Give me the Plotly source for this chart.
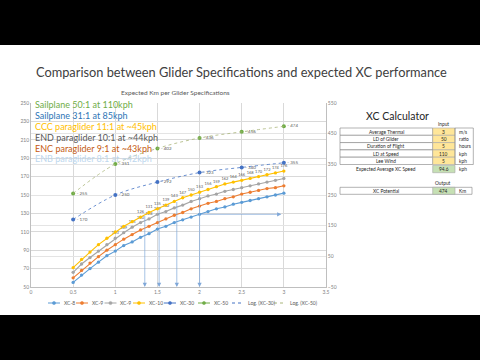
import plotly.graph_objects as go

# ---------------- data ----------------
hours = [0.5, 0.6, 0.7, 0.8, 0.9, 1.0, 1.1, 1.2, 1.3, 1.4, 1.5, 1.6, 1.7,
         1.8, 1.9, 2.0, 2.1, 2.2, 2.3, 2.4, 2.5, 2.6, 2.7, 2.8, 2.9, 3.0]
xc8 = [55, 63, 70, 77, 84, 89, 95, 99, 104, 108, 113, 116, 120,
       123, 126, 129, 132, 135, 137, 140, 142, 144, 146, 148, 150, 152]
xc9 = [60, 68, 76, 83, 90, 96, 102, 107, 112, 116, 120, 124, 128,
       131, 135, 138, 141, 143, 146, 148, 151, 153, 155, 157, 158, 160]
xc9b = [66, 75, 82, 89, 96, 103, 109, 115, 120, 124, 129, 132, 136,
        139, 143, 146, 149, 151, 154, 156, 158, 160, 162, 164, 166, 168]
xc10 = [71, 80, 88, 96, 103, 110, 116, 121, 126, 131, 135, 139, 143,
        147, 150, 153, 156, 159, 162, 164, 166, 168, 170, 172, 174, 176]

hours_sail = [0.5, 1.0, 1.5, 2.0, 2.5, 3.0]
xc30 = [170, 250, 292, 323, 340, 355]
xc50 = [255, 351, 402, 436, 456, 474]

series_names = ["XC-8", "XC-9", "XC-9", "XC-10", "XC-30", "XC-50"]
series_colors = ["#5B9BD5", "#ED7D31", "#A5A5A5", "#FFC000", "#4472C4", "#70AD47"]
trend_names = ["Log. (XC-30)", "Log. (XC-50)"]
trend_colors = ["#4472C4", "#A9B57A"]

notes = ["Sailplane 50:1 at 110kph", "Sailplane 31:1 at 85kph",
         "CCC paraglider 11:1 at ~45kph", "END paraglider 10:1 at ~44kph",
         "ENC paraglider 9:1 at ~43kph", "ENB paraglider 8:1 at ~42kph"]
note_colors = ["#70AD47", "#2E75B6", "#FFC000", "#595959", "#C55A11", "#BDD7EE"]

# drop arrows (x, top value on left axis)
drop_x = [1.35, 1.52, 1.73, 2.0]
drop_top = [129, 135, 144, 153]
flat_arrow = (2.0, 2.97, 129)

calc_labels = ["Average Thermal", "LD of Glider", "Duration of Flight",
               "LD at Speed", "Lee Wind", "Expected Average XC Speed"]
calc_values = ["3", "50", "5", "110", "5", "94.6"]
calc_units = ["m/s", "ratio", "hours", "kph", "kph", "kph"]
out_label = "XC Potential"
out_value = "474"
out_unit = "Km"

# ---------------- layout helpers ----------------
L, R, T, B = 31, 326, 103, 287
W, H = R - L, B - T


def px(x):
    return (x - L) / W


def py(y):
    return (B - y) / H


FONT = "Lato"
LBL = "#595959"
TXT = "#262626"

fig = go.Figure()

lower = [xc8, xc9, xc9b, xc10]
label_ranges = [None, None, (1.0, 1.6), (1.3, 3.0)]
for i, ys in enumerate(lower):
    rng = label_ranges[i]
    if rng:
        txt = [str(v) if rng[0] - 1e-9 <= h <= rng[1] + 1e-9 else "" for h, v in zip(hours, ys)]
        mode = "lines+markers+text"
    else:
        txt = None
        mode = "lines+markers"
    fig.add_trace(go.Scatter(
        x=hours, y=ys, name=series_names[i], mode=mode, text=txt,
        textposition="top center", textfont=dict(size=4, color=LBL, family=FONT),
        line=dict(color=series_colors[i], width=1.1),
        marker=dict(color=series_colors[i], size=3.3),
        cliponaxis=False, showlegend=False))

for ys, i in ((xc30, 4), (xc50, 5)):
    fig.add_trace(go.Scatter(
        x=hours_sail, y=ys, name=series_names[i], mode="markers+text",
        text=["- " + str(v) for v in ys], textposition="middle right",
        textfont=dict(size=4.5, color=LBL, family=FONT),
        marker=dict(color=series_colors[i], size=4), yaxis="y2", cliponaxis=False,
        showlegend=False))

for ys, nm, col in ((xc30, trend_names[0], trend_colors[0]), (xc50, trend_names[1], trend_colors[1])):
    fig.add_trace(go.Scatter(
        x=hours_sail, y=ys, name=nm, mode="lines", line_shape="spline",
        line=dict(color=col, width=0.8, dash="dot"), yaxis="y2", showlegend=False))

ann = []
shapes = []


def text(t, x, y, size, color, xanchor="center"):
    ann.append(dict(text=t, xref="paper", yref="paper", x=px(x), y=py(y), showarrow=False,
                    xanchor=xanchor, yanchor="middle",
                    font=dict(size=size, color=color, family=FONT)))


# slide letterbox bars
shapes.append(dict(type="rect", xref="paper", yref="paper", x0=px(-5), x1=px(485),
                   y0=py(315), y1=py(365), fillcolor="black", line_width=0, layer="above"))
shapes.append(dict(type="rect", xref="paper", yref="paper", x0=px(-5), x1=px(485),
                   y0=py(45), y1=py(-5), fillcolor="black", line_width=0, layer="above"))

# titles
text("Comparison between Glider Specifications and expected XC performance", 241, 72, 12.8, "#404040")
text("Expected Km per Glider Specifications", 175, 92, 6.5, LBL)

# coloured notes
note_y = [104.3, 115.3, 126.3, 137, 148, 158.7]
for t, c, yy in zip(notes, note_colors, note_y):
    text(t, 33, yy, 9, c, "left")

# drop arrows
for xv, tv in zip(drop_x, drop_top):
    ann.append(dict(text="", x=xv, y=50, ax=xv, ay=tv, xref="x", yref="y", axref="x", ayref="y",
                    showarrow=True, arrowhead=2, arrowsize=1.2, arrowwidth=0.7, arrowcolor="#7FA7D8"))
ann.append(dict(text="", x=flat_arrow[1], y=flat_arrow[2], ax=flat_arrow[0], ay=flat_arrow[2],
                xref="x", yref="y", axref="x", ayref="y", showarrow=True, arrowhead=2,
                arrowsize=1.2, arrowwidth=0.7, arrowcolor="#7FA7D8"))

# custom compact legend (bottom)
leg_names = series_names + trend_names
leg_colors = series_colors + trend_colors
leg_x = [54, 82, 110.5, 139, 170, 204, 238, 280]
leg_y = 303
for k, (nm, col, xc) in enumerate(zip(leg_names, leg_colors, leg_x)):
    dash = "dot" if k >= 6 else "solid"
    shapes.append(dict(type="line", xref="paper", yref="paper", x0=px(xc - 6), x1=px(xc + 6),
                       y0=py(leg_y), y1=py(leg_y), line=dict(color=col, width=1, dash=dash)))
    if k < 6:
        shapes.append(dict(type="circle", xref="paper", yref="paper", x0=px(xc - 1.6), x1=px(xc + 1.6),
                           y0=py(leg_y + 1.6), y1=py(leg_y - 1.6), fillcolor=col, line=dict(color=col, width=0.5)))
    text(nm, xc + 7.5, leg_y, 5, LBL, "left")

# XC calculator
text("XC Calculator", 397, 115.7, 10.5, TXT)
text("Input", 443, 124, 4.8, TXT)
row_top = [128, 135.3, 142.6, 149.9, 157.2, 165.4]
row_h = 7.3
c0, c1, c2, c3 = 340, 432.7, 455, 473.3
for i, (lb, v, u) in enumerate(zip(calc_labels, calc_values, calc_units)):
    y0 = row_top[i]
    y1 = y0 + row_h
    yc = (y0 + y1) / 2
    if i < 5:
        shapes.append(dict(type="rect", xref="paper", yref="paper", x0=px(c0), x1=px(c1),
                           y0=py(y1), y1=py(y0), line=dict(color="#7F7F7F", width=0.6),
                           fillcolor="white"))
        fill = "#FFE699"
    else:
        fill = "#C6E0B4"
    shapes.append(dict(type="rect", xref="paper", yref="paper", x0=px(c1), x1=px(c2),
                       y0=py(y1), y1=py(y0), line=dict(color="#A6A6A6", width=0.6),
                       fillcolor=fill))
    text(lb, (c0 + c1) / 2, yc, 4.8, TXT)
    text(v, (c1 + c2) / 2, yc, 4.8, TXT)
    text(u, c2 + 1.5, yc, 4.8, TXT, "left")
shapes.append(dict(type="rect", xref="paper", yref="paper", x0=px(c2), x1=px(c3),
                   y0=py(164.5), y1=py(128), line=dict(color="#7F7F7F", width=0.6)))

text("Output", 443, 183.3, 4.8, TXT)
oy0, oy1 = 187.3, 194.3
shapes.append(dict(type="rect", xref="paper", yref="paper", x0=px(c0), x1=px(472),
                   y0=py(oy1), y1=py(oy0), line=dict(color="#7F7F7F", width=0.6), fillcolor="white"))
shapes.append(dict(type="rect", xref="paper", yref="paper", x0=px(c1), x1=px(c2),
                   y0=py(oy1), y1=py(oy0), line=dict(color="#A6A6A6", width=0.6), fillcolor="#C6E0B4"))
oyc = (oy0 + oy1) / 2
text(out_label, (c0 + c1) / 2, oyc, 4.8, TXT)
text(out_value, (c1 + c2) / 2, oyc, 4.8, TXT)
text(out_unit, c2 + 1.5, oyc, 4.8, TXT, "left")

tickfont = dict(size=5, color="#7F7F7F", family=FONT)
fig.update_layout(
    width=480, height=360,
    margin=dict(l=L, r=480 - R, t=T, b=360 - B, autoexpand=False),
    paper_bgcolor="white", plot_bgcolor="white",
    font=dict(family=FONT),
    annotations=ann, shapes=shapes,
    showlegend=False,
    xaxis=dict(range=[0, 3.5], tickvals=[0, 0.5, 1, 1.5, 2, 2.5, 3, 3.5],
               ticktext=["0", "0.5", "1", "1.5", "2", "2.5", "3", "3.5"],
               showgrid=True, gridcolor="#D9D9D9", gridwidth=0.7, zeroline=False,
               showline=True, linecolor="#BFBFBF", linewidth=0.7, tickfont=tickfont, ticks=""),
    yaxis=dict(range=[50, 250], tick0=50, dtick=20, showgrid=True, gridcolor="#D9D9D9", gridwidth=0.7,
               zeroline=False, showline=True, linecolor="#BFBFBF", linewidth=0.7,
               tickfont=tickfont, ticks=""),
    yaxis2=dict(range=[-50, 550], tick0=-50, dtick=100, overlaying="y", side="right", showgrid=True,
                gridcolor="#E4E4E4", gridwidth=0.7, zeroline=False, showline=True,
                linecolor="#BFBFBF", linewidth=0.7, tickfont=tickfont, ticks=""),
)

fig.write_html("out.html", config={"displayModeBar": False},
               post_script="document.body.style.margin='0';")
